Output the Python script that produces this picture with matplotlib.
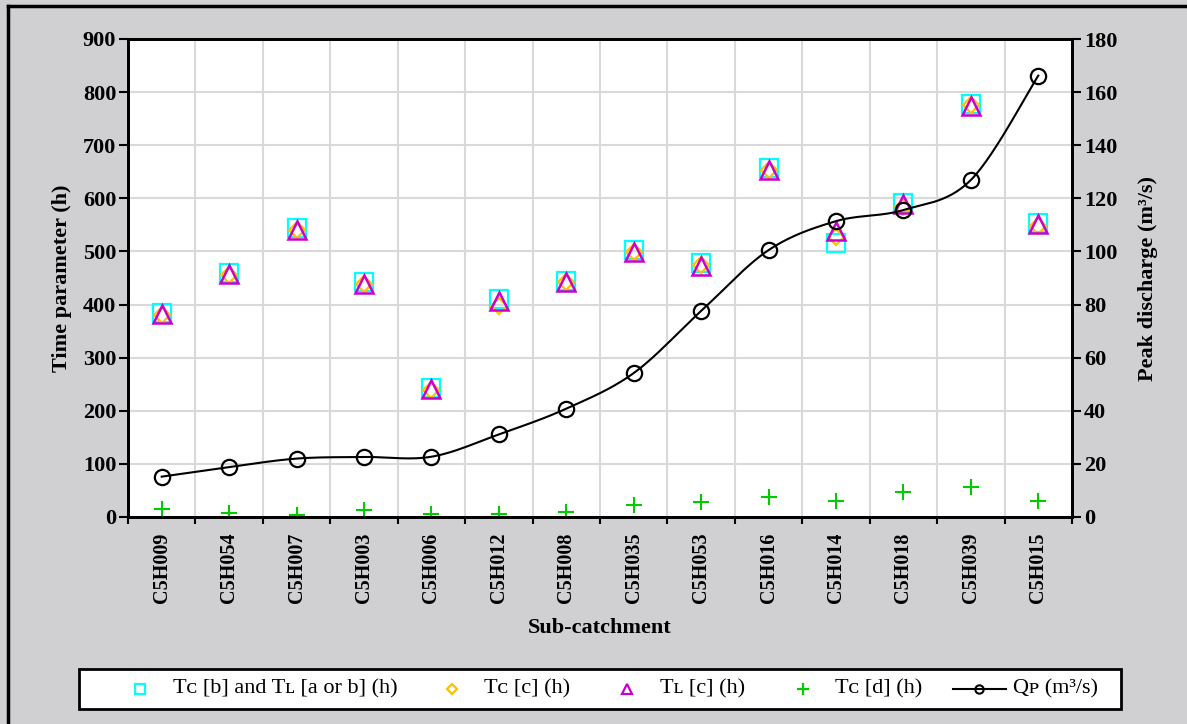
import numpy as np
import matplotlib.pyplot as plt
from matplotlib.lines import Line2D
from matplotlib.patches import Rectangle

# data
catchments = ["C5H009", "C5H054", "C5H007", "C5H003", "C5H006", "C5H012", "C5H008",
              "C5H035", "C5H053", "C5H016", "C5H014", "C5H018", "C5H039", "C5H015"]
tc_b = [384, 459, 545, 443, 242, 410, 444, 503, 478, 657, 515, 592, 778, 553]
tc_c = [381, 456, 540, 438, 240, 397, 442, 499, 474, 653, 527, 584, 775, 547]
tl_c = [382, 457, 540, 439, 241, 406, 443, 499, 473, 653, 538, 590, 773, 551]
tc_d = [15, 8, 4, 13, 5, 5, 9, 23, 28, 38, 31, 47, 57, 31]
qp = [15.2, 18.8, 22.0, 22.6, 22.7, 31.1, 40.8, 54.2, 77.6, 100.5, 111.4, 115.6, 126.9, 166.2]
labels = ['Tᴄ [b] and Tʟ [a or b] (h)', 'Tᴄ [c] (h)', 'Tʟ [c] (h)', 'Tᴄ [d] (h)', 'Qᴘ (m³/s)']

serif = ['Liberation Serif', 'DejaVu Serif', 'DejaVu Sans']
plt.rcParams['font.family'] = serif
bg = '#d0cfd1'
cyan, gold, mag, green = '#00ffff', '#ffc000', '#cc00cc', '#00cc00'

def smooth(xs, ys, n=30):
    # excel style smoothed line (bezier through the points)
    pts = np.column_stack([np.asarray(xs, float), np.asarray(ys, float)])
    out = []
    for i in range(len(pts) - 1):
        p0 = pts[max(i - 1, 0)]
        p1 = pts[i]
        p2 = pts[i + 1]
        p3 = pts[min(i + 2, len(pts) - 1)]
        c1 = p1 + (p2 - p0) / 6
        c2 = p2 - (p3 - p1) / 6
        t = np.linspace(0, 1, n)[:, None]
        seg = (1 - t) ** 3 * p1 + 3 * (1 - t) ** 2 * t * c1 + 3 * (1 - t) * t ** 2 * c2 + t ** 3 * p2
        out.append(seg if i == 0 else seg[1:])
    out = np.vstack(out)
    return out[:, 0], out[:, 1]

W, H = 1187, 724
fx = lambda px: px / W
fy = lambda py: 1 - py / H

fig = plt.figure(figsize=(W / 100, H / 100), dpi=100, facecolor=bg)

# outer frame, only left and top edges inside the picture
fig.add_artist(Line2D([fx(8), fx(8)], [0, fy(6)], transform=fig.transFigure, color='black', lw=2.5))
fig.add_artist(Line2D([fx(8), 1], [fy(6), fy(6)], transform=fig.transFigure, color='black', lw=2.5))

ax = fig.add_axes([fx(128), fy(517), fx(944), 478 / H])
ax.set_facecolor('white')
x = np.arange(len(catchments))

ax.plot(x, tc_b, linestyle='none', marker='s', markersize=13, markerfacecolor='none',
        markeredgecolor=cyan, markeredgewidth=1.6, zorder=3)
ax.plot(x, tc_c, linestyle='none', marker='D', markersize=8.5, markerfacecolor='none',
        markeredgecolor=gold, markeredgewidth=1.6, zorder=3)
ax.plot(x, tl_c, linestyle='none', marker='^', markersize=13, markerfacecolor='none',
        markeredgecolor=mag, markeredgewidth=1.8, zorder=4)
ax.plot(x, tc_d, linestyle='none', marker='+', markersize=12, markeredgecolor=green,
        markeredgewidth=1.5, zorder=3)

ax.set_xlim(-0.5, len(catchments) - 0.5)
ax.set_ylim(0, 900)
ax.set_yticks(np.arange(0, 901, 100))
ax.set_xticks(np.arange(-0.5, len(catchments), 1))
ax.set_xticklabels([])
ax.set_xticks(x, minor=True)
ax.set_xticklabels(catchments, minor=True, rotation=90, fontweight='bold', fontsize=14.5)
ax.tick_params(axis='x', which='minor', length=0, pad=11)
ax.tick_params(axis='x', which='major', length=5, width=1.5, direction='out')
ax.tick_params(axis='y', length=6.5, width=1.5, direction='out', labelsize=16, pad=2)
for lab in ax.get_yticklabels():
    lab.set_fontweight('bold')
ax.grid(True, which='major', color='#d9d9d9', linewidth=1.5)
ax.set_axisbelow(True)
for s in ax.spines.values():
    s.set_linewidth(2)
ax.set_xlabel('Sub-catchment', fontweight='bold', fontsize=16, labelpad=11)
ax.set_ylabel('Time parameter (h)', fontweight='bold', fontsize=16, labelpad=8)

ax2 = ax.twinx()
ax2.set_ylim(0, 180)
ax2.set_yticks(np.arange(0, 181, 20))
sx, sy = smooth(x, qp)
ax2.plot(sx, sy, color='black', linewidth=1.5, zorder=3)
ax2.plot(x, qp, linestyle='none', marker='o', markersize=11, markerfacecolor='none',
         markeredgecolor='black', markeredgewidth=1.6, zorder=4)
ax2.tick_params(axis='y', length=6.5, width=1.5, direction='out', labelsize=16, pad=2)
for lab in ax2.get_yticklabels():
    lab.set_fontweight('bold')
for s in ax2.spines.values():
    s.set_linewidth(2)
ax2.set_ylabel('Peak discharge (m³/s)', fontweight='bold', fontsize=16, labelpad=15)

# legend box drawn by hand to keep Excel's spacing
fig.add_artist(Rectangle((fx(79), fy(709)), fx(1121 - 79), 40 / H, transform=fig.transFigure,
                         facecolor='white', edgecolor='black', linewidth=2))
ly = fy(689)
marks = [
    dict(marker='s', markersize=6.5, markerfacecolor='none', markeredgecolor=cyan, markeredgewidth=1.6),
    dict(marker='D', markersize=5, markerfacecolor='none', markeredgecolor=gold, markeredgewidth=1.6),
    dict(marker='^', markersize=6.5, markerfacecolor='none', markeredgecolor=mag, markeredgewidth=1.6),
    dict(marker='+', markersize=8, markeredgecolor=green, markeredgewidth=1.6),
]
mark_x = [140, 452, 627, 803]
text_x = [173, 484, 660, 835, 1013]
for mx, m in zip(mark_x, marks):
    fig.add_artist(Line2D([fx(mx)], [ly], transform=fig.transFigure, linestyle='none', **m))
fig.add_artist(Line2D([fx(953), fx(1006)], [ly, ly], transform=fig.transFigure,
                      color='black', linewidth=1.5))
fig.add_artist(Line2D([fx(979)], [ly], transform=fig.transFigure, linestyle='none', marker='o',
                      markersize=6, markerfacecolor='none', markeredgecolor='black',
                      markeredgewidth=1.5))
for tx, lab in zip(text_x, labels):
    fig.text(fx(tx), ly, lab, fontsize=16, ha='left', va='center')

fig.savefig('out.png', dpi=100, facecolor=bg)
